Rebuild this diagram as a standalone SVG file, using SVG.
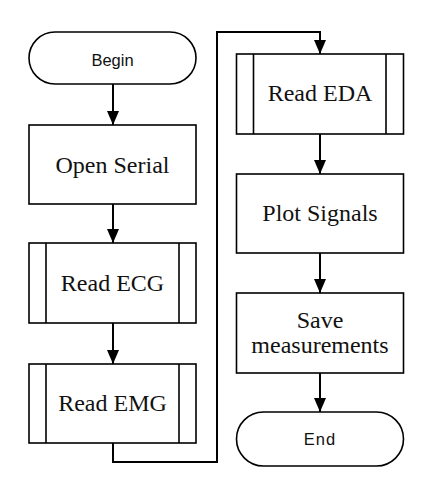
<svg xmlns="http://www.w3.org/2000/svg" width="427" height="481" viewBox="0 0 427 481">
<style>
.box{fill:#fff;stroke:#000;stroke-width:1.6}
.ln{fill:none;stroke:#000;stroke-width:1.6}
.conn{fill:none;stroke:#000;stroke-width:2}
.serif{font-family:"Liberation Serif","Times New Roman",serif;font-size:24px;fill:#111;text-anchor:middle}
.sans{font-family:"Liberation Sans",Arial,sans-serif;font-size:16.5px;fill:#111;text-anchor:middle}
</style>
<defs>
<marker id="ah" viewBox="0 0 14 12" refX="14" refY="6" markerWidth="14" markerHeight="12" markerUnits="userSpaceOnUse" orient="auto">
<path d="M0,0 L14,6 L0,12 z" fill="#000"/>
</marker>
</defs>
<rect width="427" height="481" fill="#fff"/>
<g id="connectors">
<path class="conn" d="M113,84 V125" marker-end="url(#ah)"/>
<path class="conn" d="M113,204 V243" marker-end="url(#ah)"/>
<path class="conn" d="M113,323 V364" marker-end="url(#ah)"/>
<path class="conn" d="M113,443 V462 H217 V32 H320 V54" marker-end="url(#ah)"/>
<path class="conn" d="M320,134 V174" marker-end="url(#ah)"/>
<path class="conn" d="M320,253 V293" marker-end="url(#ah)"/>
<path class="conn" d="M320,373 V412" marker-end="url(#ah)"/>
</g>
<g id="begin">
<rect class="box" x="29" y="32" width="167" height="52" rx="26" ry="26"/>
<text class="sans" x="112.5" y="65.5">Begin</text>
</g>
<g id="open-serial">
<rect class="box" x="29" y="125" width="167" height="79"/>
<text class="serif" x="112.5" y="172.5">Open Serial</text>
</g>
<g id="read-ecg">
<rect class="box" x="29" y="243" width="167" height="80"/>
<line class="ln" x1="46" y1="243" x2="46" y2="323"/>
<line class="ln" x1="179" y1="243" x2="179" y2="323"/>
<text class="serif" x="112.5" y="290.5">Read ECG</text>
</g>
<g id="read-emg">
<rect class="box" x="29" y="364" width="167" height="79"/>
<line class="ln" x1="46" y1="364" x2="46" y2="443"/>
<line class="ln" x1="179" y1="364" x2="179" y2="443"/>
<text class="serif" x="112.5" y="410.5">Read EMG</text>
</g>
<g id="read-eda">
<rect class="box" x="236.5" y="54" width="167" height="80"/>
<line class="ln" x1="253.5" y1="54" x2="253.5" y2="134"/>
<line class="ln" x1="386" y1="54" x2="386" y2="134"/>
<text class="serif" x="320" y="101">Read EDA</text>
</g>
<g id="plot-signals">
<rect class="box" x="236.5" y="174" width="167" height="79"/>
<text class="serif" x="320" y="221">Plot Signals</text>
</g>
<g id="save-measurements">
<rect class="box" x="236.5" y="293" width="167" height="80"/>
<text class="serif" x="320" y="327.5">Save</text>
<text class="serif" x="320" y="353">measurements</text>
</g>
<g id="end">
<rect class="box" x="236.5" y="412" width="167" height="54" rx="27" ry="27"/>
<text class="sans" x="320" y="444.5" letter-spacing="1">End</text>
</g>
</svg>
